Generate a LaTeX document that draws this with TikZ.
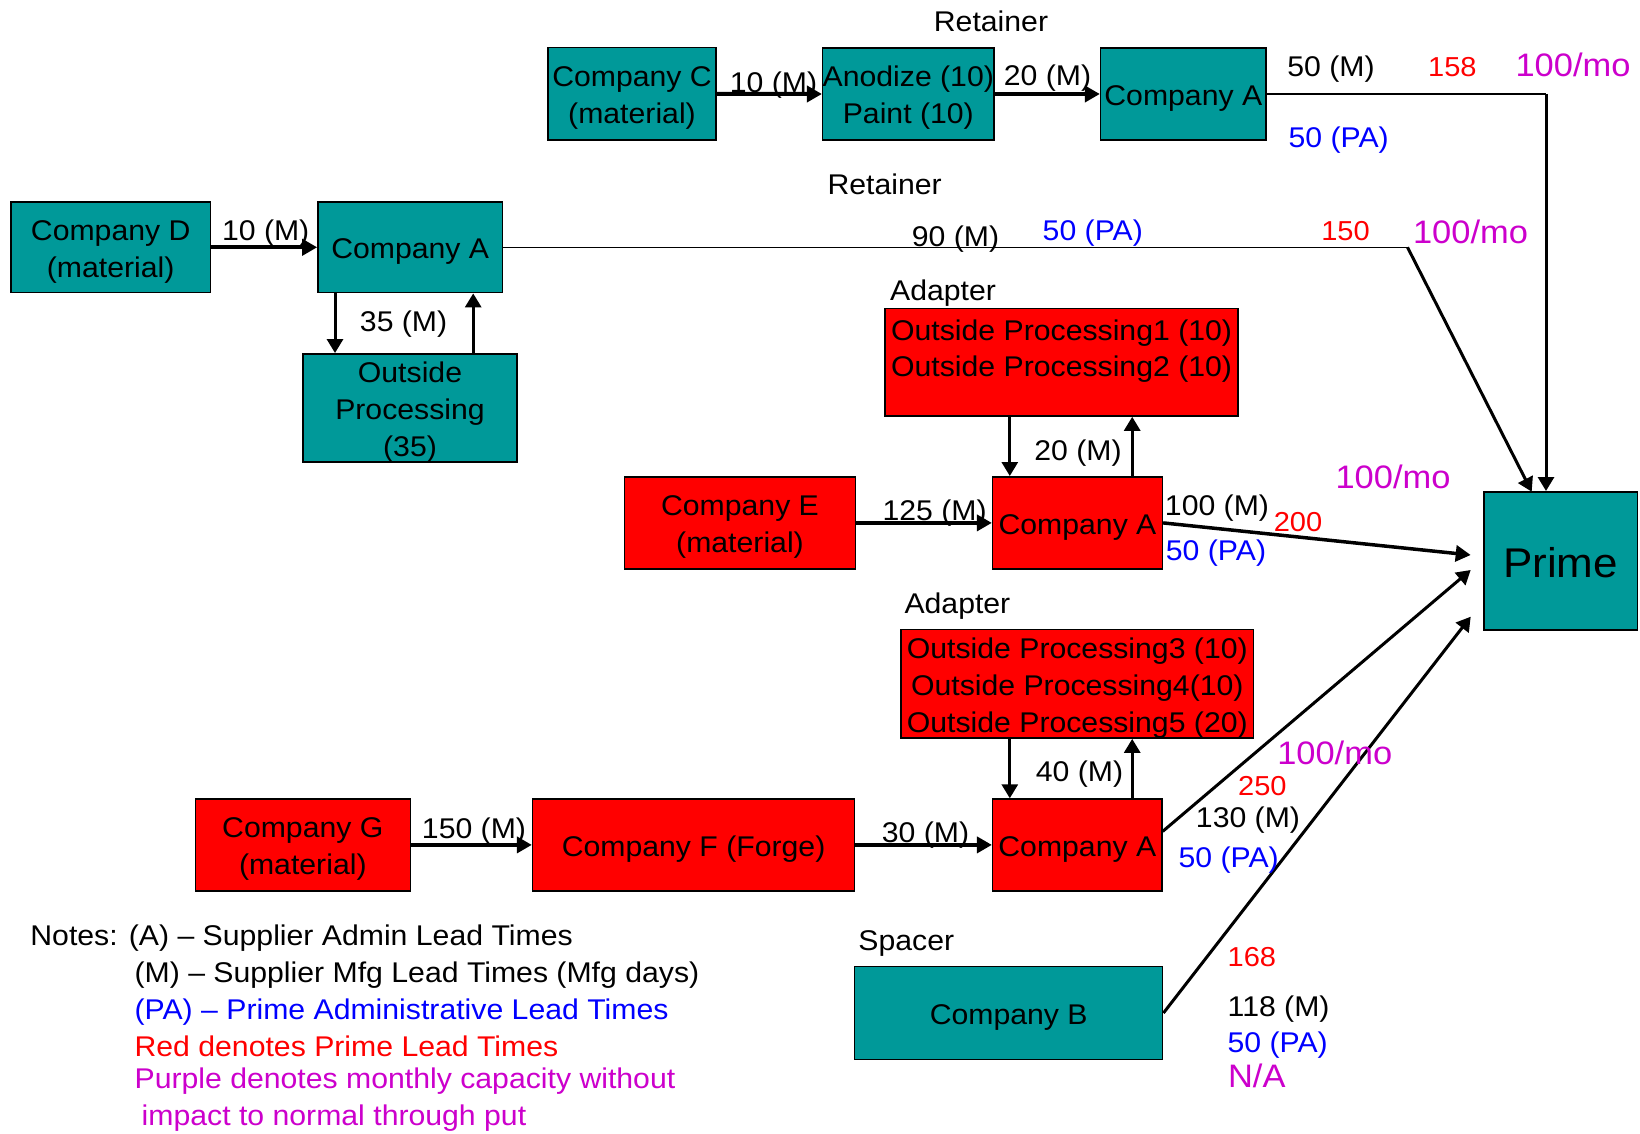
\documentclass[tikz,border=0pt]{standalone}
\usepackage{fontspec}
\setmainfont{Liberation Sans}[FakeStretch=1.06]
\usetikzlibrary{arrows.meta}
\definecolor{tealfill}{RGB}{0,153,153}
\definecolor{redfill}{RGB}{255,0,0}
\definecolor{pablue}{RGB}{0,0,255}
\definecolor{primered}{RGB}{255,0,0}
\definecolor{capurple}{RGB}{204,0,204}
\newcommand{\boxstrut}{\rule{0pt}{28.5pt}}
\tikzset{
  box/.style={draw=black, line width=1.5pt, inner sep=0pt, align=center,
    font=\fontsize{28.5}{37}\selectfont},
  tbox/.style={box, fill=tealfill},
  rbox/.style={box, fill=redfill},
  lbl/.style={inner sep=0pt, anchor=base, font=\fontsize{28.5}{36}\selectfont},
  redl/.style={lbl, text=primered, font=\fontsize{27.4}{34}\selectfont},
  bluel/.style={lbl, text=pablue},
  purl/.style={lbl, text=capurple, font=\fontsize{32.5}{40}\selectfont},
  arr/.style={line width=4pt, -{Triangle[length=15pt,width=16pt]}},
  varr/.style={line width=3pt, -{Triangle[length=14pt,width=16pt]}},
  marr/.style={line width=3.5pt, -{Triangle[length=15pt,width=16pt]}},
  thinline/.style={line width=1.5pt},
}
\begin{document}
\begin{tikzpicture}[x=1pt,y=-1pt]
\useasboundingbox[fill=white] (0,0) rectangle (1640,1134);

% ---------- boxes ----------
\node[tbox, minimum width=168pt, minimum height=92.3pt] (cc) at (632,93.9) {\boxstrut Company C\\(material)};
\node[tbox, minimum width=167.5pt, minimum height=92pt] (an) at (908.3,94) {\boxstrut Anodize (10)\\Paint (10)};
\node[tbox, minimum width=165.4pt, minimum height=92pt] (ca1) at (1183.3,94) {\boxstrut Company A};

\node[tbox, minimum width=199.5pt, minimum height=90.7pt] (cd) at (110.7,247.3) {\boxstrut Company D\\(material)};
\node[tbox, minimum width=184.5pt, minimum height=90.7pt] (ca2) at (410.2,247.3) {\boxstrut Company A};
\node[tbox, minimum width=214pt, minimum height=107.4pt] (op) at (410,408) {\boxstrut Outside\\Processing\\(35)};

\node[rbox, minimum width=352.8pt, minimum height=107.7pt] (op1) at (1061.6,362.2) {};
\node[lbl] (op1a) at (1061.6,340) {Outside Processing1 (10)};
\node[lbl] (op1b) at (1061.6,376.7) {Outside Processing2 (10)};
\node[rbox, minimum width=230.9pt, minimum height=92.3pt] (ce) at (740,522.9) {\boxstrut Company E\\(material)};
\node[rbox, minimum width=169.8pt, minimum height=92.3pt] (ca3) at (1077.5,522.9) {\boxstrut Company A};

\node[rbox, minimum width=352.8pt, minimum height=107.7pt] (op2) at (1077.3,683.9) {\boxstrut Outside Processing3 (10)\\Outside Processing4(10)\\Outside Processing5 (20)};
\node[rbox, minimum width=215pt, minimum height=91.7pt] (cg) at (302.8,844.9) {\boxstrut Company G\\(material)};
\node[rbox, minimum width=322pt, minimum height=91.7pt] (cf) at (693.6,844.9) {\boxstrut Company F (Forge)};
\node[rbox, minimum width=169.3pt, minimum height=91.7pt] (ca4) at (1077.3,844.9) {\boxstrut Company A};

\node[tbox, minimum width=308pt, minimum height=92.6pt] (cb) at (1008.7,1013) {\boxstrut Company B};

\node[tbox, minimum width=153.3pt, minimum height=138.3pt] (prime) at (1560.6,560.9) {};
\node[lbl, font=\fontsize{41.5}{48}\selectfont] (primet) at (1560.5,577.3) {Prime};

% ---------- coordinates ----------
\coordinate (k1) at (1546,94);
\coordinate (k2) at (1407.5,247.3);
\coordinate (e2) at (1531.7,491.7);
\coordinate (e3) at (1470.7,555);
\coordinate (e4) at (1470.7,570);
\coordinate (e5) at (1470.7,616.7);
\coordinate (d2) at (335,0);
\coordinate (u2) at (473.2,0);
\coordinate (d3) at (1009.8,0);
\coordinate (u3) at (1132.2,0);

% ---------- connectors ----------
\draw[arr] (cc.east) -- (an.west);
\draw[arr] (an.west -| an.east) -- (ca1.west);
\draw[thinline] (ca1.east) -- (k1);
\draw[varr] (k1) -- (k1 |- prime.north);

\draw[arr] (cd.east) -- (ca2.west);
\draw[thinline] (ca2.east) -- (k2);
\draw[varr] (k2) -- (e2);
\draw[varr] (ca2.south -| d2) -- (op.north -| d2);
\draw[varr] (op.north -| u2) -- (ca2.south -| u2);

\draw[varr] (op1.south -| d3) -- (ca3.north -| d3);
\draw[varr] (ca3.north -| u3) -- (op1.south -| u3);
\draw[arr] (ce.east) -- (ca3.west);
\draw[marr] (ca3.east) -- (e3);

\draw[varr] (op2.south -| d3) -- (ca4.north -| d3);
\draw[varr] (ca4.north -| u3) -- (op2.south -| u3);
\draw[arr] (cg.east) -- (cf.west);
\draw[arr] (cf.east) -- (ca4.west);
\draw[varr] (ca4.9) -- (e4);
\draw[varr] (cb.east) -- (e5);

% ---------- labels ----------
\node[lbl] (rt1) at (991,31.5) {Retainer};
\node[lbl] (l1) at (773.5,93) {10 (M)};
\node[lbl] (l2) at (1047.5,86) {20 (M)};
\node[lbl] (l3) at (1331,77) {50 (M)};
\node[redl] (r1) at (1452.4,77) {158};
\node[purl] (p1) at (1573,77) {100/mo};
\node[bluel] (b1) at (1338.7,148) {50 (PA)};

\node[lbl] (rt2) at (884.6,194) {Retainer};
\node[lbl] (l4) at (265.7,240) {10 (M)};
\node[lbl] (l5) at (955.5,246) {90 (M)};
\node[bluel] (b2) at (1092.8,240.7) {50 (PA)};
\node[redl] (r2) at (1345.5,240) {150};
\node[purl] (p2) at (1470.5,243) {100/mo};
\node[lbl] (l6) at (403.6,331.7) {35 (M)};

\node[lbl] (ad1) at (943,300.7) {Adapter};
\node[lbl] (l7) at (1078,460) {20 (M)};
\node[lbl] (l8) at (934.6,520.7) {125 (M)};
\node[lbl] (l9) at (1217,515) {100 (M)};
\node[redl] (r3) at (1298,531.7) {200};
\node[bluel] (b3) at (1216,560) {50 (PA)};
\node[purl] (p3) at (1393,488.3) {100/mo};

\node[lbl] (ad2) at (957.4,613.3) {Adapter};
\node[lbl] (l10) at (1079.5,781.7) {40 (M)};
\node[lbl] (l11) at (474,838.3) {150 (M)};
\node[lbl] (l12) at (925.5,842.3) {30 (M)};
\node[purl] (p4) at (1334.7,764) {100/mo};
\node[redl] (r4) at (1262.4,795.7) {250};
\node[lbl] (l13) at (1248,827.3) {130 (M)};
\node[bluel] (b4) at (1228.7,867.3) {50 (PA)};

\node[lbl] (sp) at (906.3,950.7) {Spacer};
\node[redl] (r5) at (1251.9,966.7) {168};
\node[lbl] (l14) at (1278.6,1016.7) {118 (M)};
\node[bluel] (b5) at (1277.7,1052.7) {50 (PA)};
\node[purl] (p5) at (1256.8,1087.7) {N/A};

% ---------- notes ----------
\node[lbl, anchor=base west] (n1) at (30.2,945) {Notes: (A) – Supplier Admin Lead Times};
\node[lbl, anchor=base west] (n2) at (134.4,982.3) {(M) – Supplier Mfg Lead Times (Mfg days)};
\node[lbl, anchor=base west, text=pablue] (n3) at (134.4,1019.3) {(PA) – Prime Administrative Lead Times};
\node[lbl, anchor=base west, text=primered] (n4) at (134.4,1056) {Red denotes Prime Lead Times};
\node[lbl, anchor=base west, text=capurple] (n5) at (134.4,1088.3) {Purple denotes monthly capacity without};
\node[lbl, anchor=base west, text=capurple] (n6) at (141.5,1125) {impact to normal through put};
\end{tikzpicture}
\end{document}
